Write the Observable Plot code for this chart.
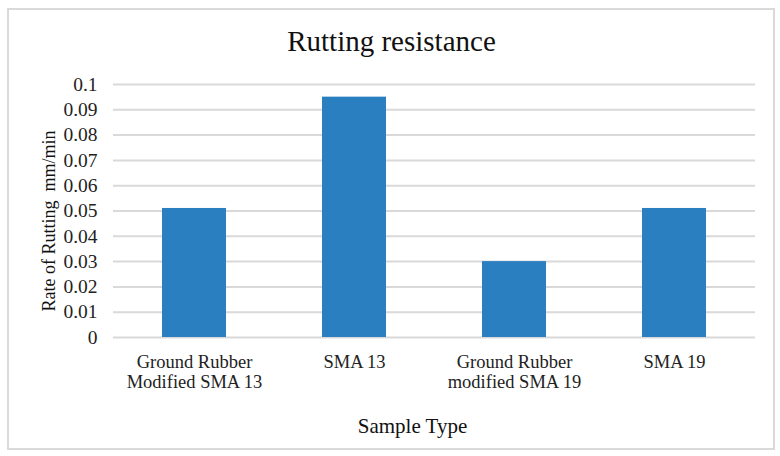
<!DOCTYPE html>
<html>
<head>
<meta charset="utf-8">
<script src="https://cdn.jsdelivr.net/npm/d3@7"></script>
<script src="https://cdn.jsdelivr.net/npm/@observablehq/plot@0.6"></script>
<style>
  html, body { margin: 0; padding: 0; background: #fff; }
  #wrap { position: relative; width: 780px; height: 456px; }
  #border { position: absolute; left: 7px; top: 8px; width: 764px; height: 438px; border: 2px solid #d9d9d9; box-sizing: content-box; }
  #chart { position: absolute; left: 0; top: 0; }
</style>
</head>
<body>
<div id="wrap"><div id="border"></div><div id="chart"></div></div>
<script>
const categories = ["Ground Rubber\nModified SMA 13", "SMA 13", "Ground Rubber\nmodified SMA 19", "SMA 19"];
const values = [0.051, 0.095, 0.030, 0.051];
const yTicks = [0, 0.01, 0.02, 0.03, 0.04, 0.05, 0.06, 0.07, 0.08, 0.09, 0.1];
const title = "Rutting resistance";
const xLabel = "Sample Type";
const yLabel = "Rate of Rutting  mm/min";

const data = categories.map((c, i) => ({category: c, value: values[i]}));
const font = "'Liberation Serif', 'Times New Roman', serif";

const chart = Plot.plot({
  width: 780,
  height: 456,
  marginLeft: 113,
  marginRight: 25,
  marginTop: 84,
  marginBottom: 119,
  style: {fontFamily: font, fontSize: "18px", color: "#222", background: "transparent"},
  x: {domain: categories, paddingInner: 0.6, paddingOuter: 0.3, label: null},
  y: {domain: [0, 0.1], label: null},
  marks: [
    Plot.gridY(yTicks, {stroke: "#d9d9d9", strokeOpacity: 1, strokeWidth: 2}),
    Plot.barY(data, {x: "category", y: "value", fill: "#2a7fc1"}),
    Plot.axisY(yTicks, {tickSize: 0, tickPadding: 16, fontSize: 19.5, tickFormat: d => String(+d.toFixed(2))}),
    Plot.axisX({tickSize: 0, tickPadding: 16, fontSize: 18.5, lineHeight: 1.08, label: null}),
    Plot.text([title], {frameAnchor: "top", lineAnchor: "middle", dy: -43, dx: -43, fontSize: 29, fill: "#111"}),
    Plot.text([xLabel], {frameAnchor: "bottom", lineAnchor: "middle", dy: 89, dx: -22, fontSize: 21, fill: "#111"}),
    Plot.text([yLabel], {frameAnchor: "left", textAnchor: "middle", dx: -64, dy: 10, rotate: -90, fontSize: 18, fill: "#111"})
  ]
});
document.getElementById("chart").appendChild(chart);
</script>
</body>
</html>
